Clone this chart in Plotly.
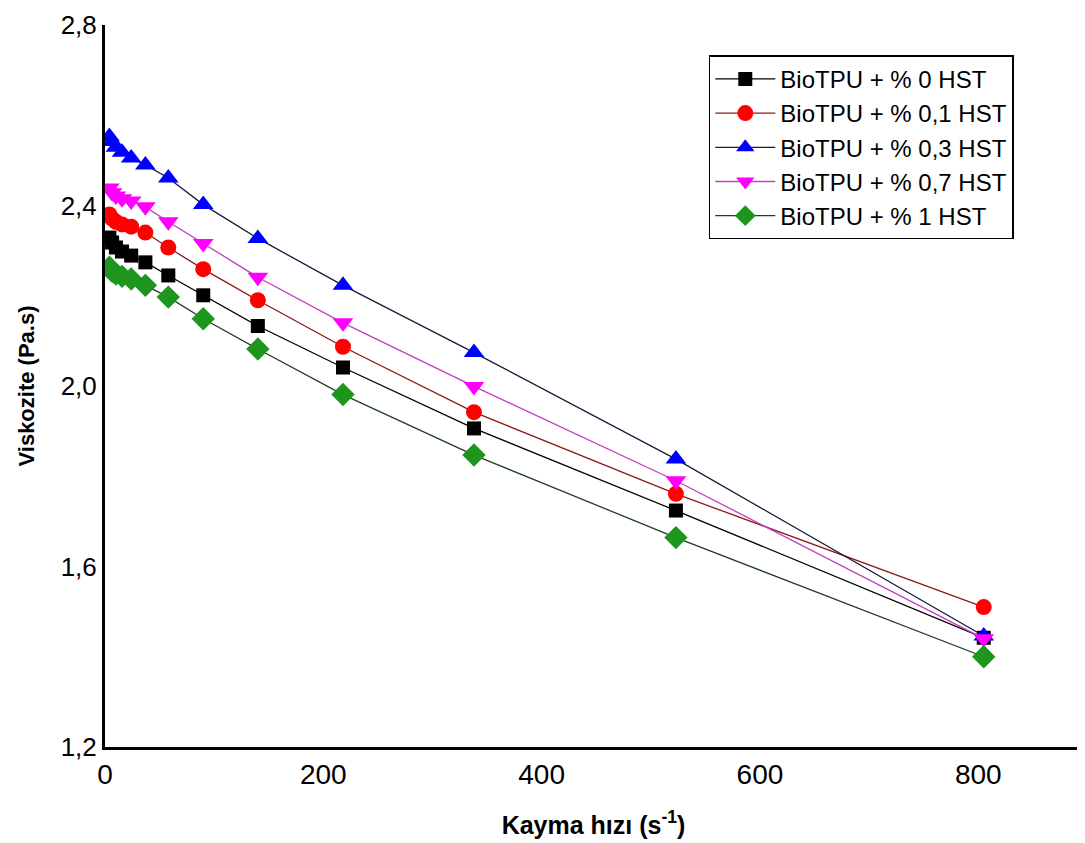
import plotly.graph_objects as go

shear_rate = [4, 6.5, 10, 15.6, 24, 37, 58, 90, 140, 218, 338, 523, 805]

series_names = [
    "BioTPU + % 0 HST",
    "BioTPU + % 0,1 HST",
    "BioTPU + % 0,3 HST",
    "BioTPU + % 0,7 HST",
    "BioTPU + % 1 HST",
]

visc_0 = [2.329, 2.318, 2.307, 2.298, 2.289, 2.274, 2.245, 2.201, 2.133, 2.041, 1.906, 1.724, 1.442]
visc_01 = [2.380, 2.371, 2.364, 2.358, 2.353, 2.340, 2.307, 2.259, 2.190, 2.087, 1.942, 1.761, 1.510]
visc_03 = [2.553, 2.542, 2.529, 2.518, 2.505, 2.490, 2.461, 2.402, 2.327, 2.223, 2.074, 1.838, 1.446]
visc_07 = [2.439, 2.428, 2.421, 2.415, 2.410, 2.397, 2.364, 2.316, 2.241, 2.140, 1.999, 1.790, 1.440]
visc_1 = [2.263, 2.254, 2.248, 2.243, 2.237, 2.223, 2.197, 2.149, 2.082, 1.981, 1.847, 1.664, 1.400]

y_ticks = [1.2, 1.6, 2.0, 2.4, 2.8]
x_ticks = [0, 200, 400, 600, 800]

styles = [
    dict(line="#000000", marker="#000000", symbol="square", size=14),
    dict(line="#8b1a1a", marker="#ff0000", symbol="circle", size=16),
    dict(line="#1a1a3a", marker="#0000ff", symbol="triangle-up", size=18),
    dict(line="#c040c0", marker="#ff00ff", symbol="triangle-down", size=18),
    dict(line="#1f3f1f", marker="#1e961e", symbol="diamond", size=18),
]

all_values = [visc_0, visc_01, visc_03, visc_07, visc_1]

fig = go.Figure()
for name, vals, st in zip(series_names, all_values, styles):
    fig.add_trace(go.Scatter(
        x=shear_rate, y=vals, name=name, mode="lines+markers",
        line=dict(color=st["line"], width=1.3),
        marker=dict(symbol=st["symbol"], size=st["size"], color=st["marker"],
                    line=dict(width=0)),
    ))

fig.update_layout(
    width=1085, height=843,
    margin=dict(l=97, r=11, t=17, b=104),
    plot_bgcolor="white", paper_bgcolor="white",
    separators=", ",
    font=dict(family="Liberation Sans, Arial, sans-serif", color="#000000"),
    showlegend=True,
    legend=dict(
        x=0.618, y=0.958, xanchor="left", yanchor="top",
        bgcolor="white", bordercolor="#000000", borderwidth=1.5,
        font=dict(size=24, family="Liberation Sans, Arial, sans-serif"),
        itemwidth=60, tracegroupgap=0,
    ),
    xaxis=dict(
        range=[0, 895], tickvals=x_ticks, ticktext=[str(v) for v in x_ticks],
        showgrid=False, zeroline=False, automargin=False,
        showline=True, linecolor="#000000", linewidth=3,
        ticks="", tickfont=dict(size=28), ticklabeloverflow="allow",
        title=dict(text="<b>Kayma hızı (s<sup>-1</sup>)</b>", font=dict(size=25), standoff=28),
    ),
    yaxis=dict(
        range=[1.2, 2.8], tickvals=y_ticks, tickformat=".1f",
        showgrid=False, zeroline=False, automargin=False,
        showline=True, linecolor="#000000", linewidth=3,
        ticks="", tickfont=dict(size=26), ticklabeloverflow="allow",
        title=dict(text="<b>Viskozite (Pa.s)</b>", font=dict(size=22), standoff=20),
    ),
)

fig.write_html("out.html")
